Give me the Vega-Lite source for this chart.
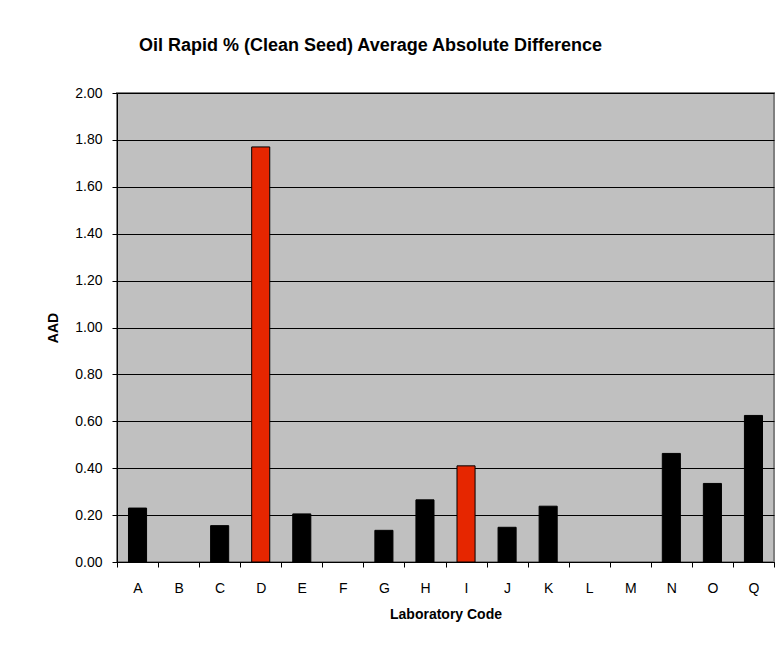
{
  "$schema": "https://vega.github.io/schema/vega-lite/v6.json",
  "width": 657,
  "height": 469,
  "autosize": "none",
  "padding": {"left": 117, "top": 93, "right": 4, "bottom": 86},
  "background": "white",
  "title": {
    "text": "Oil Rapid % (Clean Seed) Average Absolute Difference",
    "anchor": "start",
    "frame": "group",
    "dx": 22,
    "offset": 13,
    "baseline": "bottom",
    "font": "Liberation Sans",
    "fontSize": 18,
    "fontWeight": "bold",
    "color": "black"
  },
  "data": {
    "values": [
      {"lab": "A", "AAD": 0.23},
      {"lab": "B", "AAD": null},
      {"lab": "C", "AAD": 0.155},
      {"lab": "D", "AAD": 1.77},
      {"lab": "E", "AAD": 0.205},
      {"lab": "F", "AAD": null},
      {"lab": "G", "AAD": 0.135},
      {"lab": "H", "AAD": 0.265},
      {"lab": "I", "AAD": 0.41},
      {"lab": "J", "AAD": 0.148},
      {"lab": "K", "AAD": 0.238},
      {"lab": "L", "AAD": null},
      {"lab": "M", "AAD": null},
      {"lab": "N", "AAD": 0.463},
      {"lab": "O", "AAD": 0.335},
      {"lab": "Q", "AAD": 0.625}
    ]
  },
  "mark": {"type": "bar", "width": {"band": 0.44}, "stroke": "black", "strokeWidth": 1},
  "encoding": {
    "x": {
      "field": "lab",
      "type": "nominal",
      "scale": {"domain": ["A","B","C","D","E","F","G","H","I","J","K","L","M","N","O","Q"], "paddingInner": 0, "paddingOuter": 0},
      "axis": {
        "title": "Laboratory Code",
        "titleFont": "Liberation Sans",
        "titleFontSize": 14,
        "titleFontWeight": "bold",
        "titleColor": "black",
        "titlePadding": 12,
        "labelAngle": 0,
        "labelFont": "Liberation Sans",
        "labelFontSize": 14,
        "labelColor": "black",
        "labelPadding": 14,
        "tickBand": "extent",
        "tickSize": 5,
        "tickColor": "black",
        "domainColor": "black",
        "grid": false
      }
    },
    "y": {
      "field": "AAD",
      "type": "quantitative",
      "scale": {"domain": [0, 2], "nice": false},
      "axis": {
        "title": "AAD",
        "titleFont": "Liberation Sans",
        "titleFontSize": 14,
        "titleFontWeight": "bold",
        "titleColor": "black",
        "titlePadding": 14,
        "values": [0, 0.2, 0.4, 0.6, 0.8, 1.0, 1.2, 1.4, 1.6, 1.8, 2.0],
        "format": ".2f",
        "labelFont": "Liberation Sans",
        "labelFontSize": 14,
        "labelColor": "black",
        "labelPadding": 10,
        "tickSize": 5,
        "tickColor": "black",
        "domainColor": "black",
        "grid": true,
        "gridColor": "black",
        "gridWidth": 1
      }
    },
    "color": {
      "condition": {"test": "datum.lab === 'D' || datum.lab === 'I'", "value": "#E62600"},
      "value": "black"
    }
  },
  "config": {
    "view": {"fill": "#C0C0C0", "stroke": "#808080", "strokeWidth": 2}
  }
}
